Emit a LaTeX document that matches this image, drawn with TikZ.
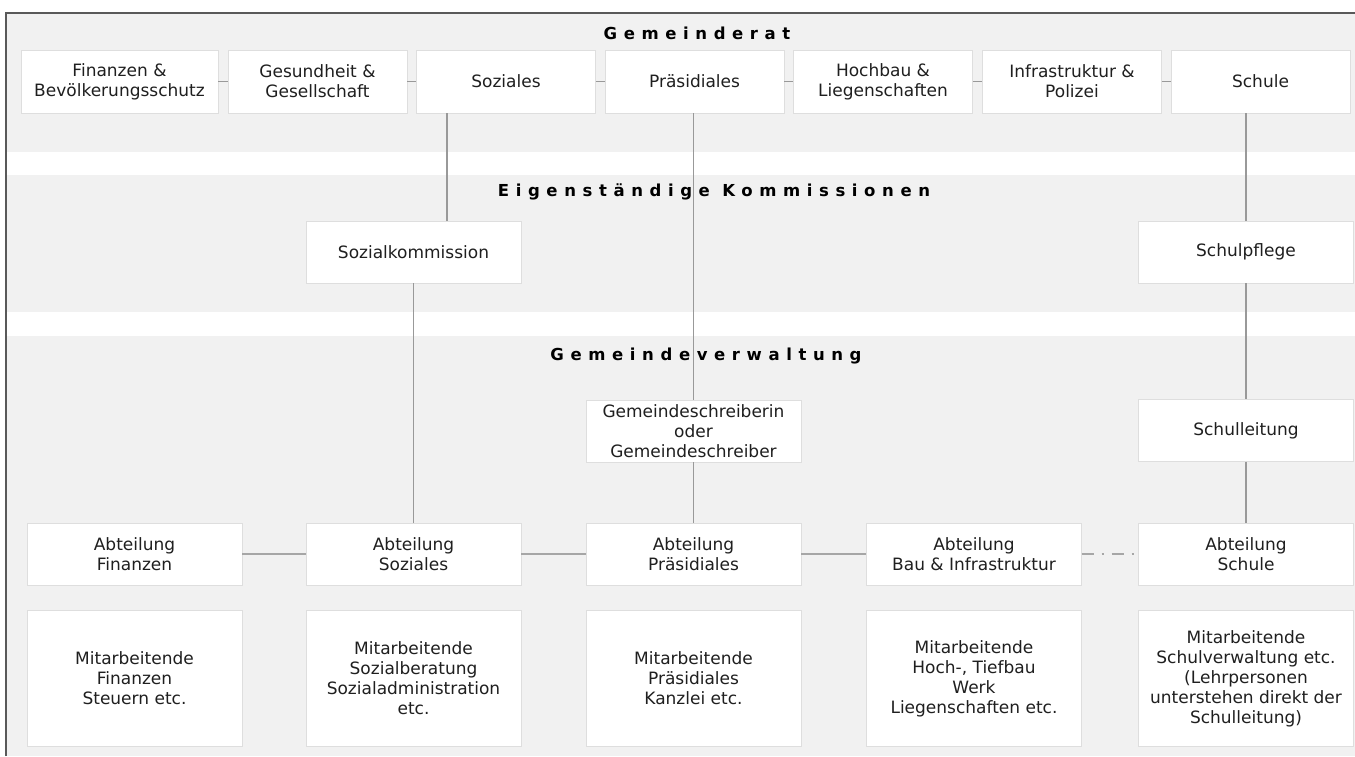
\documentclass[tikz,border=0pt]{standalone}
\usepackage{fontspec}
\setmainfont{DejaVu Sans}
\newfontfamily\spacedfont[LetterSpace=40]{DejaVu Sans}
\usetikzlibrary{positioning}

\begin{document}
\begin{tikzpicture}[x=1pt, y=-1pt,
      ressort/.style={rectangle, draw=black!13, fill=white, minimum width=179pt, minimum height=63pt, inner sep=0pt, align=center, text=black!88, font=\fontsize{17pt}{20pt}\selectfont},
      amt/.style={rectangle, draw=black!13, fill=white, minimum width=215pt, minimum height=62pt, inner sep=0pt, align=center, text=black!88, font=\fontsize{17pt}{20pt}\selectfont},
      staff/.style={amt, minimum height=136pt},
      title/.style={anchor=base, text=black, font=\spacedfont\bfseries\fontsize{16.5pt}{19pt}\selectfont},
      link/.style={draw=black!40, line width=1.4pt},
      hlink/.style={draw=black!35, line width=2.6pt}]

      \useasboundingbox (0,0) rectangle (1355,756);

      % Bands and frame
      \fill[black!5.5] (6,13) rectangle (1355,152);
      \fill[black!5.5] (6,175) rectangle (1355,312);
      \fill[black!5.5] (6,336) rectangle (1355,756);
      \draw[black!65, line width=1.5pt] (6,756) -- (6,13) -- (1355,13);

      \node[title] (tRat) at (697,39) {Gemeinderat};
      \node[title] (tKom) at (714,196) {Eigenständige Kommissionen};
      \node[title] (tVer) at (706,360) {Gemeindeverwaltung};

      % Gemeinderat
      \node[ressort, minimum width=197pt] (gFin) at (119.5,81.5) {Finanzen \&\\Bevölkerungsschutz};
      \node[ressort] (gGes) at (317.5,81.5) {Gesundheit \&\\Gesellschaft};
      \node[ressort] (gSoz) at (506,81.5) {Soziales};
      \node[ressort] (gPrae) at (694.5,81.5) {Präsidiales};
      \node[ressort] (gHoch) at (883,81.5) {Hochbau \&\\Liegenschaften};
      \node[ressort] (gInfra) at (1072,81.5) {Infrastruktur \&\\Polizei};
      \node[ressort] (gSchule) at (1260.5,81.5) {Schule};

      % Kommissionen
      \node[amt] (kSoz) at (413.5,252) {Sozialkommission};
      \node[amt] (kSchul) at (1246,252) {Schulpflege};

      % Verwaltung
      \node[amt] (schreiber) at (693.5,431) {Gemeindeschreiberin\\oder\\Gemeindeschreiber};
      \node[amt] (schulleitung) at (1246,430.5) {Schulleitung};

      \node[amt] (aFin) at (134.5,554) {Abteilung\\Finanzen};
      \node[amt] (aSoz) at (413.5,554) {Abteilung\\Soziales};
      \node[amt] (aPrae) at (693.5,554) {Abteilung\\Präsidiales};
      \node[amt] (aBau) at (974,554) {Abteilung\\Bau \& Infrastruktur};
      \node[amt] (aSchule) at (1246,554) {Abteilung\\Schule};

      \node[staff, below=25pt of aFin] (mFin) {Mitarbeitende\\Finanzen\\Steuern etc.};
      \node[staff, below=25pt of aSoz] (mSoz) {Mitarbeitende\\Sozialberatung\\Sozialadministration\\etc.};
      \node[staff, below=25pt of aPrae] (mPrae) {Mitarbeitende\\Präsidiales\\Kanzlei etc.};
      \node[staff, below=25pt of aBau] (mBau) {Mitarbeitende\\Hoch-, Tiefbau\\Werk\\Liegenschaften etc.};
      \node[staff, below=25pt of aSchule] (mSchule) {Mitarbeitende\\Schulverwaltung etc.\\(Lehrpersonen\\unterstehen direkt der\\Schulleitung)};

      % Lines
      \foreach \a/\b in {gFin/gGes, gGes/gSoz, gSoz/gPrae, gPrae/gHoch, gHoch/gInfra, gInfra/gSchule} {
        \draw[link] (\a) -- (\b);
      }

      \draw[link] ([xshift=33.5pt]kSoz.north |- gSoz.south) -- ([xshift=33.5pt]kSoz.north);
      \draw[link] (kSoz) -- (aSoz);
      \draw[link] (schreiber.north |- gPrae.south) -- (schreiber.north);
      \draw[link] (schreiber) -- (aPrae);
      \draw[link] (kSchul.north |- gSchule.south) -- (kSchul.north);
      \draw[link] (kSchul) -- (schulleitung);
      \draw[link] (schulleitung) -- (aSchule);

      \draw[hlink] (aFin) -- (aSoz);
      \draw[hlink] (aSoz) -- (aPrae);
      \draw[hlink] (aPrae) -- (aBau);
      \draw[hlink, dash pattern=on 12pt off 8pt on 2pt off 8pt] (aBau) -- (aSchule);
    \end{tikzpicture}
\end{document}
